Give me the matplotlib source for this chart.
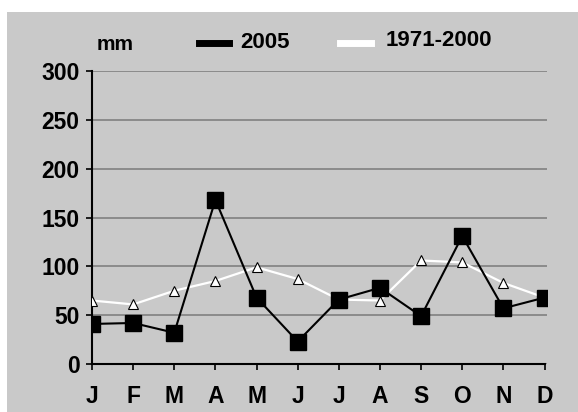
import matplotlib.pyplot as plt
from matplotlib.patches import Rectangle

months = ["J", "F", "M", "A", "M", "J", "J", "A", "S", "O", "N", "D"]
rain_2005 = [41, 42, 32, 168, 68, 23, 66, 78, 49, 131, 57, 68]
rain_normal = [65, 61, 75, 85, 99, 87, 66, 65, 106, 104, 83, 68]

plt.rcParams['font.family'] = ['Liberation Sans', 'DejaVu Sans']

fig = plt.figure(figsize=(5.78, 4.12), dpi=100)
fig.patch.set_facecolor('white')
bg = '#c9c9c9'
# gray panel (top strip stays white)
fig.patches.append(Rectangle((7/578, 0), 1, 1 - 12/412, transform=fig.transFigure,
                             facecolor=bg, edgecolor='none', zorder=-5))

ax = fig.add_axes([92/578, 1 - 364/412, (547 - 92)/578, (364 - 71)/412])
ax.set_facecolor(bg)
x = list(range(12))

ax.plot(x, rain_normal, color='white', lw=1.6, marker='^', markersize=7,
        markerfacecolor='white', markeredgecolor='black', markeredgewidth=0.8, zorder=3)
ax.plot(x, rain_2005, color='black', lw=1.5, marker='s', markersize=11,
        markerfacecolor='black', zorder=4)

ax.set_xlim(0, 11.06)
ax.set_ylim(0, 300)
ax.set_yticks(range(0, 301, 50))
ax.set_xticks(x)
ax.set_xticklabels(months)
ax.yaxis.grid(True, color='#7a7a7a', lw=1.1)
ax.set_axisbelow(True)
for s in ['top', 'right']:
    ax.spines[s].set_visible(False)
ax.spines['left'].set_linewidth(1.5)
ax.spines['bottom'].set_linewidth(1.5)
ax.spines['bottom'].set_bounds(0, 11)
ax.tick_params(axis='both', direction='out', length=4, width=1.2, labelsize=16.5)
ax.tick_params(axis='y', pad=5)
ax.tick_params(axis='x', pad=11)
for lab in ax.get_xticklabels() + ax.get_yticklabels():
    lab.set_fontweight('bold')

# legend-like header
fig.text(115/578, 1 - 45/412, "mm", fontsize=15, fontweight='bold', va='center', ha='center')
fig.add_artist(plt.Line2D([199/578, 229/578], [1 - 43/412] * 2, color='black', lw=5,
                          transform=fig.transFigure))
fig.text(240/578, 1 - 42/412, "2005", fontsize=16, fontweight='bold', va='center')
fig.add_artist(plt.Line2D([340/578, 371/578], [1 - 43/412] * 2, color='white', lw=5,
                          transform=fig.transFigure))
fig.text(386/578, 1 - 40/412, "1971-2000", fontsize=16, fontweight='bold', va='center')

fig.savefig('out.png', dpi=100, facecolor=fig.get_facecolor())
